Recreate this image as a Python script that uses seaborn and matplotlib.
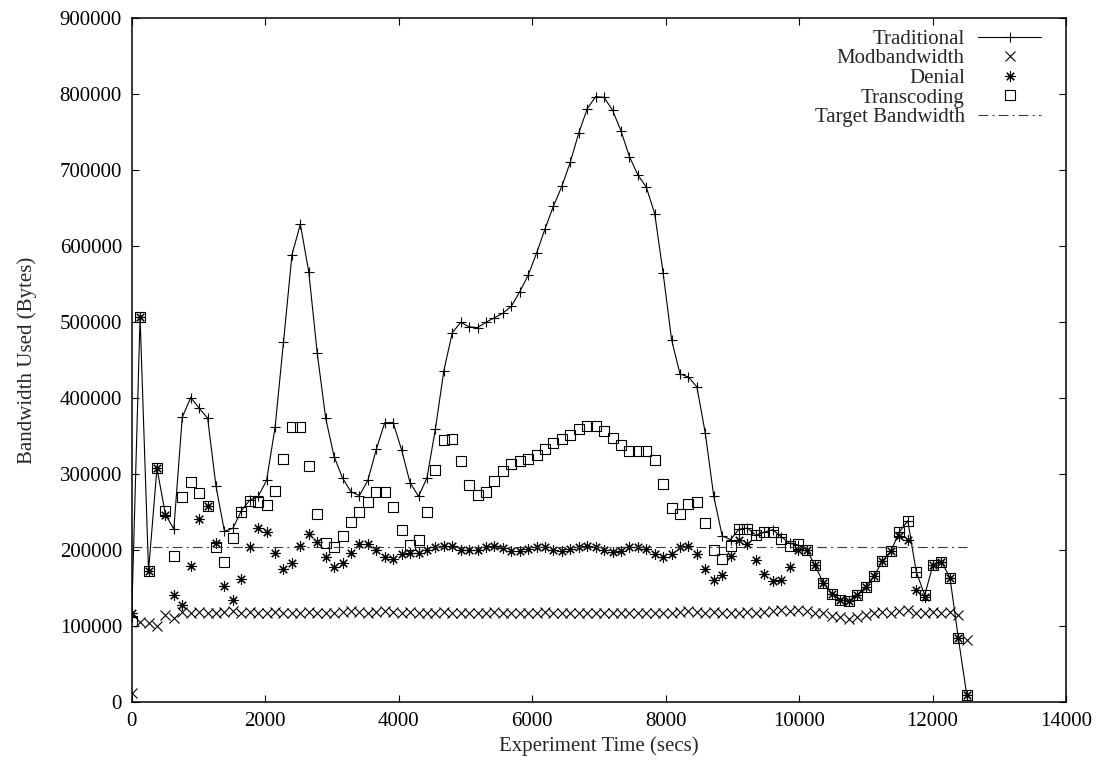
import matplotlib
matplotlib.use("Agg")
import matplotlib.pyplot as plt
import seaborn as sns
from matplotlib.path import Path
from matplotlib.ticker import FormatStrFormatter

# ---------------- data ----------------
times = [0, 126, 253, 379, 506, 632, 758, 885, 1011, 1138,
         1264, 1390, 1517, 1643, 1770, 1896, 2022, 2149, 2275, 2402,
         2528, 2654, 2781, 2907, 3034, 3160, 3286, 3413, 3539, 3666,
         3792, 3918, 4045, 4171, 4298, 4424, 4550, 4677, 4803, 4930,
         5056, 5182, 5309, 5435, 5562, 5688, 5814, 5941, 6067, 6194,
         6320, 6446, 6573, 6699, 6826, 6952, 7078, 7205, 7331, 7458,
         7584, 7710, 7837, 7963, 8090, 8216, 8342, 8469, 8595, 8722,
         8848, 8974, 9101, 9227, 9354, 9480, 9606, 9733, 9859, 9986,
         10112, 10238, 10365, 10491, 10618, 10744, 10870, 10997, 11123, 11250,
         11376, 11502, 11629, 11755, 11882, 12008, 12134, 12261, 12387, 12514]

traditional = [112000, 507000, 173000, 308000, 247000, 228000, 375000, 401000, 387000, 374000,
               284000, 225000, 229000, 252000, 266000, 271000, 292000, 362000, 474000, 589000,
               629000, 566000, 459000, 374000, 323000, 295000, 277000, 272000, 292000, 333000,
               368000, 368000, 332000, 289000, 271000, 295000, 359000, 436000, 486000, 500000,
               494000, 493000, 500000, 506000, 512000, 521000, 540000, 562000, 591000, 623000,
               653000, 679000, 711000, 749000, 781000, 797000, 796000, 779000, 752000, 718000,
               694000, 678000, 643000, 565000, 477000, 432000, 428000, 415000, 354000, 271000,
               219000, 214000, 228000, 229000, 220000, 224000, 227000, 218000, 209000, 207000,
               201000, 180000, 157000, 143000, 135000, 133000, 141000, 152000, 166000, 186000,
               199000, 224000, 239000, 172000, 141000, 181000, 185000, 164000, 84000, 9000]

modbandwidth = [12000, 106000, 104000, 101000, 115000, 111000, 119000, 117000, 119000, 117000,
                118000, 119000, 120000, 118000, 119000, 117000, 118000, 119000, 118000, 117000,
                118000, 119000, 118000, 117000, 118000, 119000, 120000, 119000, 118000, 119000,
                120000, 119000, 118000, 119000, 118000, 117000, 118000, 119000, 118000, 117000,
                118000, 117000, 118000, 119000, 118000, 117000, 118000, 117000, 118000, 119000,
                118000, 117000, 118000, 117000, 118000, 117000, 118000, 117000, 118000, 117000,
                118000, 117000, 118000, 117000, 118000, 119000, 120000, 119000, 118000, 119000,
                118000, 117000, 118000, 119000, 118000, 119000, 120000, 121000, 120000, 121000,
                120000, 118000, 117000, 114000, 112000, 110000, 112000, 115000, 117000, 119000,
                118000, 120000, 121000, 117000, 118000, 119000, 118000, 119000, 115000, 82000]

denial = [117000, 507000, 173000, 308000, 246000, 141000, 128000, 179000, 241000, 258000,
          210000, 153000, 135000, 162000, 204000, 229000, 224000, 196000, 176000, 183000,
          206000, 221000, 211000, 191000, 178000, 183000, 197000, 208000, 208000, 200000,
          191000, 189000, 195000, 197000, 197000, 200000, 204000, 206000, 205000, 201000,
          200000, 201000, 204000, 206000, 202600, 199500, 199500, 201300, 203900, 203900,
          200400, 199500, 201300, 203900, 206100, 203900, 200400, 197300, 199500, 203900,
          203900, 201300, 195100, 191000, 195500, 204000, 206000, 195000, 176000, 161000,
          168000, 193000, 214000, 208000, 187000, 169000, 159000, 161000, 178000, 200000,
          200000, 180000, 157000, 143000, 135000, 133000, 141000, 152000, 166000, 186000,
          199000, 219000, 213000, 148000, 139000, 181000, 185000, 164000, 84000, 9000]

transcoding = [107000, 507000, 173000, 308000, 252000, 192000, 270000, 290000, 276000, 258000,
               204000, 185000, 216000, 250000, 265000, 263000, 260000, 278000, 320000, 362000,
               362000, 311000, 248000, 210000, 204000, 219000, 237000, 250000, 264000, 277000,
               277000, 257000, 227000, 207000, 213000, 251000, 306000, 345000, 346000, 318000,
               286000, 273000, 277000, 291000, 304000, 313000, 318000, 320000, 325000, 333000,
               341000, 346000, 352000, 359000, 364000, 363000, 357000, 348000, 338000, 331000,
               330000, 331000, 319000, 287000, 255000, 248000, 261000, 263000, 236000, 201000,
               188000, 205000, 228000, 228000, 220000, 224000, 224000, 215000, 206000, 208000,
               201000, 180000, 157000, 143000, 135000, 133000, 141000, 152000, 166000, 186000,
               199000, 224000, 239000, 172000, 141000, 181000, 185000, 164000, 84000, 9000]

target_bandwidth = 204800

series_labels = ["Traditional", "Modbandwidth", "Denial", "Transcoding", "Target Bandwidth"]
x_ticks = [0, 2000, 4000, 6000, 8000, 10000, 12000, 14000]
y_ticks = [0, 100000, 200000, 300000, 400000, 500000, 600000, 700000, 800000, 900000]

# ---------------- style ----------------
sns.set_theme(style="ticks")
plt.rcParams['font.family'] = ['Liberation Serif', 'DejaVu Serif']
plt.rcParams['font.size'] = 15
plt.rcParams['lines.scale_dashes'] = False

fig = plt.figure(figsize=(10.99, 7.72), dpi=100)
ax = fig.add_axes([0.1198, 0.0903, 0.8502, 0.8860])

# square marker with a centre dot (gnuplot style)
sq_verts = [(-1, -1), (1, -1), (1, 1), (-1, 1), (-1, -1),
            (-0.09, -0.09), (0.09, -0.09), (0.09, 0.09), (-0.09, 0.09), (-0.09, -0.09)]
sq_codes = [Path.MOVETO, Path.LINETO, Path.LINETO, Path.LINETO, Path.CLOSEPOLY,
            Path.MOVETO, Path.LINETO, Path.LINETO, Path.LINETO, Path.CLOSEPOLY]
square_dot = Path(sq_verts, sq_codes)

mk = dict(markeredgecolor="black", markerfacecolor="none", markeredgewidth=0.8)

sns.lineplot(x=times, y=traditional, ax=ax, color="black", linewidth=0.8,
             marker="+", markersize=7.5, label=series_labels[0], sort=False, **mk)
sns.lineplot(x=times, y=modbandwidth, ax=ax, color="black", linestyle="none",
             marker="x", markersize=7.5, label=series_labels[1], sort=False, **mk)
sns.lineplot(x=times, y=denial, ax=ax, color="black", linestyle="none",
             marker=(8, 2, 0), markersize=7.5, label=series_labels[2], sort=False, **mk)
sns.lineplot(x=times, y=transcoding, ax=ax, color="black", linestyle="none",
             marker=square_dot, markersize=6.5, label=series_labels[3], sort=False, **mk)
sns.lineplot(x=[times[0], times[-1]], y=[target_bandwidth, target_bandwidth], ax=ax,
             color="#3a3a3a", linewidth=0.8, dashes=(7, 3, 1.5, 3),
             label=series_labels[4], sort=False)

ax.set_xlim(0, 14000)
ax.set_ylim(0, 900000)
ax.set_xticks(x_ticks)
ax.set_yticks(y_ticks)
ax.xaxis.set_major_formatter(FormatStrFormatter('%d'))
ax.yaxis.set_major_formatter(FormatStrFormatter('%d'))
ax.tick_params(direction="in", top=True, right=True, length=5, width=0.8,
               labelsize=15, pad=7, colors="black")
for s in ax.spines.values():
    s.set_visible(True)
    s.set_linewidth(1.1)
    s.set_color("black")

ax.set_xlabel("Experiment Time (secs)", fontsize=15, labelpad=4)
ax.set_ylabel("Bandwidth Used (Bytes)", fontsize=15, labelpad=16)

handles, labels = ax.get_legend_handles_labels()
leg = ax.legend(handles, labels, loc="upper right", bbox_to_anchor=(0.973, 0.984),
                frameon=False, markerfirst=False, handlelength=3.0, handletextpad=0.65,
                labelspacing=0.0, borderpad=0, borderaxespad=0, fontsize=15)

fig.savefig("out.png", dpi=100)
